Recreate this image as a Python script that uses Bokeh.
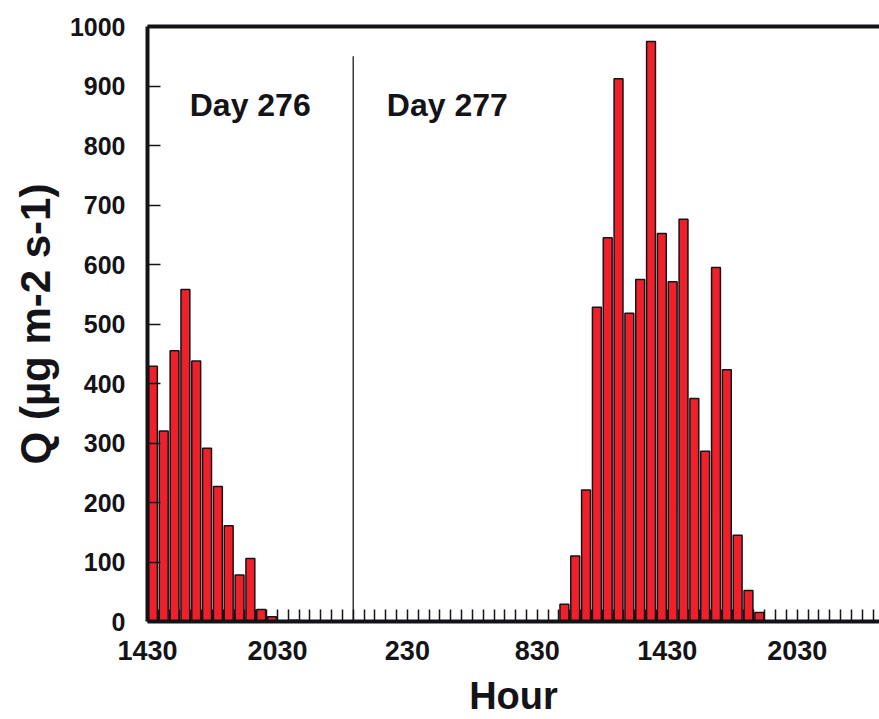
import numpy as np
from bokeh.plotting import figure
from bokeh.models import FixedTicker, LinearAxis, Range1d, ColumnDataSource
from bokeh.core.properties import value
from bokeh.embed import file_html
from bokeh.resources import INLINE

# Half-hourly Q values, day 276 starting at 14:30 and day 277 starting at 00:00
day276_q = [429, 320, 455, 558, 438, 291, 227, 161, 78, 106, 20, 8, 0, 2, 0, 0, 0, 0, 0]
day277_q = [0, 0, 0, 0, 0, 0, 0, 0, 0, 0, 0, 0, 0, 0, 0, 0, 0, 0, 0,
            29, 110, 221, 528, 645, 912, 518, 575, 975, 652, 571, 676, 375,
            286, 595, 423, 145, 52, 15, 0, 0, 0, 0, 0, 0, 0, 0, 0, 0, 0]
tick_labels = ["1430", "2030", "230", "830", "1430", "2030"]
day_labels = ["Day 276", "Day 277"]
y_ticks = [0, 100, 200, 300, 400, 500, 600, 700, 800, 900, 1000]

q = day276_q + day277_q
t = [0.5 * i for i in range(len(q))]          # hours after 14:30 on day 276
midnight = 0.5 * len(day276_q)                 # start of day 277

FONT = "Liberation Sans"
INK = "#141418"

p = figure(width=879, height=719, output_backend="svg", toolbar_location=None,
           x_range=Range1d(0, 33.8), y_range=Range1d(0, 1000),
           min_border_left=147, min_border_right=0, min_border_top=26,
           min_border_bottom=98)
p.outline_line_color = None
p.xgrid.visible = False
p.ygrid.visible = False
p.background_fill_color = "white"
p.border_fill_color = "white"

src = ColumnDataSource(dict(x=[v + 0.25 for v in t], top=q))
p.vbar(x="x", top="top", width=0.41, bottom=0, source=src,
       fill_color="#f0202a", line_color=INK, line_width=1.5)

# boundary between the two days
p.segment(x0=[midnight], y0=[0], x1=[midnight], y1=[950], line_color="#3a3a3e", line_width=1.5)

p.text(x=[1.95, 11.05], y=[868, 868], text=day_labels, text_font=value(FONT),
       text_font_size="32px", text_font_style="bold", text_color=INK,
       text_baseline="alphabetic", text_align="left")

major = [0, 6, 12, 18, 24, 30]
minor = [0.5 * i for i in range(68) if (0.5 * i) not in major]
xa = p.xaxis[0]
xa.ticker = FixedTicker(ticks=major, minor_ticks=minor)
xa.major_label_overrides = {m: lab for m, lab in zip(major, tick_labels)}
xa.major_tick_in = 12
xa.major_tick_out = 0
xa.minor_tick_in = 12
xa.minor_tick_out = 0
xa.major_tick_line_width = 1.5
xa.minor_tick_line_width = 1.5
xa.major_tick_line_color = INK
xa.minor_tick_line_color = INK
xa.axis_line_width = 4
xa.axis_line_color = INK
xa.major_label_text_font = FONT
xa.major_label_text_font_style = "bold"
xa.major_label_text_font_size = "27px"
xa.major_label_text_color = INK
xa.major_label_standoff = 19
xa.axis_label = "Hour"
xa.axis_label_text_font = FONT
xa.axis_label_text_font_style = "bold"
xa.axis_label_text_font_size = "38px"
xa.axis_label_text_color = INK
xa.axis_label_standoff = 12

ya = p.yaxis[0]
ya.ticker = FixedTicker(ticks=y_ticks, minor_ticks=[])
ya.major_tick_in = 13
ya.major_tick_out = 0
ya.major_tick_line_width = 1.5
ya.major_tick_line_color = INK
ya.axis_line_width = 4
ya.axis_line_color = INK
ya.major_label_text_font = FONT
ya.major_label_text_font_style = "bold"
ya.major_label_text_font_size = "25px"
ya.major_label_text_color = INK
ya.major_label_standoff = 22
ya.axis_label = "Q (µg m-2 s-1)"
ya.axis_label_text_font = FONT
ya.axis_label_text_font_style = "bold"
ya.axis_label_text_font_size = "42px"
ya.axis_label_text_color = INK
ya.axis_label_standoff = 8

top = LinearAxis(ticker=FixedTicker(ticks=[]), axis_line_width=4, axis_line_color=INK,
                 major_label_text_font_size="0px", major_tick_line_color=None,
                 minor_tick_line_color=None)
p.add_layout(top, "above")

open("out.html", "w").write(file_html(p, INLINE))
